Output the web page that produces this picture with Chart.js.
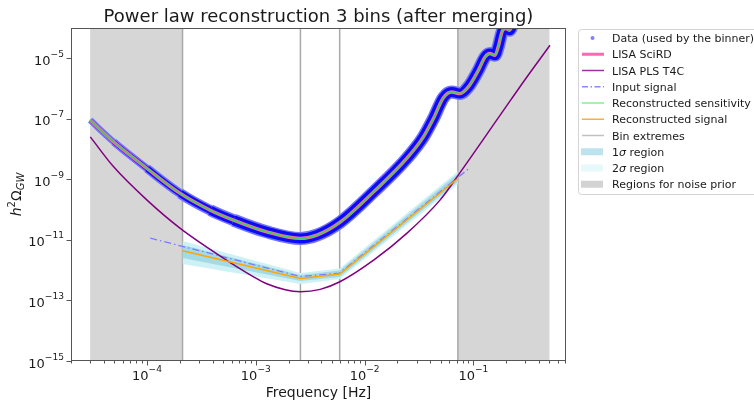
<!DOCTYPE html>
<html>
<head>
<meta charset="utf-8">
<script src="https://cdn.jsdelivr.net/npm/chart.js@4.4.1/dist/chart.umd.min.js"></script>
<style>
  html, body { margin: 0; padding: 0; background: #fff; }
  canvas { display: block; }
</style>
</head>
<body>
<canvas id="chart" width="754" height="401"></canvas>
<script>
const FONT = "'DejaVu Sans', sans-serif";
const TEXT = "#1a1a1a";

// axis limits and ticks
const xMin = 2.0e-5;
const xMax = 0.71;
const yMin = 1e-15;
const yMax = 1e-4;
const xMajorTicks = [1e-4, 1e-3, 1e-2, 1e-1];
const yTicks = [1e-15, 1e-13, 1e-11, 1e-9, 1e-7, 1e-5];

// LISA SciRD sensitivity (also the reconstructed sensitivity and the data cloud)
const sciFreq = [3.0e-5, 4.93e-5, 1.0e-4, 2.02e-4, 3.81e-4, 6.24e-4, 1.26e-3, 2.56e-3, 3.64e-3, 5.96e-3,
  1.21e-2, 2.44e-2, 3.47e-2, 4.29e-2, 5.30e-2, 6.32e-2, 7.54e-2, 8.98e-2, 0.111, 0.128,
  0.142, 0.158, 0.169, 0.186, 0.199, 0.214, 0.241];
const sciVal = [9.0e-8, 1.73e-8, 2.29e-9, 3.43e-10, 9.6e-11, 4.5e-11, 1.85e-11, 1.12e-11, 1.44e-11, 3.86e-11,
  3.86e-10, 4.9e-9, 2.53e-8, 1.02e-7, 4.97e-7, 7.7e-7, 6.8e-7, 1.13e-6, 4.0e-6, 1.1e-5,
  1.43e-5, 1.26e-5, 2.36e-5, 8.4e-5, 9.5e-5, 8.4e-5, 2.0e-4];

// LISA PLS T4C
const plsFreq = [3.01e-5, 4.93e-5, 1.0e-4, 2.02e-4, 4.71e-4, 9.53e-4, 1.26e-3, 1.83e-3, 2.56e-3, 3.91e-3,
  5.92e-3, 1.21e-2, 2.44e-2, 4.93e-2, 7.26e-2, 0.175, 0.308, 0.506];
const plsVal = [2.53e-8, 2.59e-9, 2.06e-10, 2.4e-11, 2.92e-12, 6.05e-13, 3.55e-13, 2.30e-13, 1.94e-13, 2.32e-13,
  4.14e-13, 2.15e-12, 1.64e-11, 2.06e-10, 1.38e-9, 1.27e-7, 2.32e-6, 2.69e-5];

// injected signal
const inputFreq = [1.07e-4, 2.57e-3, 5.9e-3, 9.3e-2];
const inputVal = [1.15e-11, 6.15e-13, 8.0e-13, 2.43e-9];

// reconstruction on the merged bins
const binEdges = [2.12e-4, 2.57e-3, 5.9e-3, 7.2e-2];
const recSignal = [4.37e-12, 5.36e-13, 7.43e-13, 1.07e-9];
const sigma1Low = [2.51e-12, 4.36e-13, 5.91e-13, 8.39e-10];
const sigma1High = [6.73e-12, 6.89e-13, 9.7e-13, 1.54e-9];
const sigma2Low = [1.59e-12, 3.47e-13, 5.08e-13, 6.95e-10];
const sigma2High = [9.12e-12, 8.01e-13, 1.13e-12, 1.87e-9];

const noiseRegions = [[3.0e-5, 2.12e-4], [7.2e-2, 0.5]];

const legendLabels = ["Data (used by the binner)", "LISA SciRD", "LISA PLS T4C", "Input signal",
  "Reconstructed sensitivity", "Reconstructed signal", "Bin extremes", "1σ region", "2σ region",
  "Regions for noise prior"];

const REGION_COLOR = "rgba(128,128,128,0.32)";
const BIN_COLOR = "#a9a9a9";

const legendHandles = [
  { type: "dot", color: "#8080ff" },
  { type: "line", color: "#ff69b4", width: 3 },
  { type: "line", color: "#993399", width: 1.5 },
  { type: "dash", color: "#8888ff", width: 1.5 },
  { type: "line", color: "#88ee88", width: 1.5 },
  { type: "line", color: "#ffad33", width: 1.5 },
  { type: "line", color: "#c0c0c0", width: 1.5 },
  { type: "patch", color: "#bde3ee" },
  { type: "patch", color: "#e6f9fb" },
  { type: "patch", color: "#d3d3d3" }
];

function pts(xs, ys) {
  return xs.map((x, i) => ({ x, y: ys[i] }));
}

// the scatter of the data cloud widens from the low-frequency end
function bandWidth(ctx) {
  const f = ctx.p0.parsed.x;
  const t = Math.min(1, Math.max(0, (Math.log10(f) + 4.52) / 1.3));
  return 3.5 + 6.5 * t;
}

const datasets = [
  { label: "halo", data: pts(sciFreq, sciVal), borderColor: "#7373ff", borderWidth: 12,
    borderJoinStyle: "round", cubicInterpolationMode: "monotone",
    segment: { borderWidth: c => bandWidth(c) + 3 }, order: 12 },
  { label: "Data (used by the binner)", data: pts(sciFreq, sciVal), borderColor: "#0b0bf5", borderWidth: 10,
    borderJoinStyle: "round", cubicInterpolationMode: "monotone",
    segment: { borderWidth: bandWidth }, order: 11 },
  { label: "LISA SciRD", data: pts(sciFreq, sciVal), borderColor: "#ff69b4", borderWidth: 3.4,
    cubicInterpolationMode: "monotone", order: 10 },
  { label: "2σ high", data: pts(binEdges, sigma2High), borderWidth: 0, borderColor: "rgba(0,0,0,0)",
    backgroundColor: "#cdf1f5", fill: "+1", order: 9 },
  { label: "2σ low", data: pts(binEdges, sigma2Low), borderWidth: 0, borderColor: "rgba(0,0,0,0)",
    fill: false, order: 9 },
  { label: "1σ high", data: pts(binEdges, sigma1High), borderWidth: 0, borderColor: "rgba(0,0,0,0)",
    backgroundColor: "#a3dae5", fill: "+1", order: 8 },
  { label: "1σ low", data: pts(binEdges, sigma1Low), borderWidth: 0, borderColor: "rgba(0,0,0,0)",
    fill: false, order: 8 },
  { label: "Input signal", data: pts(inputFreq, inputVal), borderColor: "#7b7bff", borderWidth: 1.3,
    borderDash: [7, 3, 1.5, 3], order: 7 },
  { label: "LISA PLS T4C", data: pts(plsFreq, plsVal), borderColor: "#800080", borderWidth: 1.5,
    cubicInterpolationMode: "monotone", order: 6 },
  { label: "Reconstructed sensitivity", data: pts(sciFreq, sciVal), borderColor: "#4fc94f", borderWidth: 1.7,
    cubicInterpolationMode: "monotone", order: 5 },
  { label: "Reconstructed signal", data: pts(binEdges, recSignal), borderColor: "#ffa500", borderWidth: 1.5,
    order: 4 }
];

function hline(ctx, x0, y0, x1, y1) {
  ctx.beginPath();
  ctx.moveTo(x0, y0);
  ctx.lineTo(x1, y1);
  ctx.stroke();
}

function drawPow(ctx, value, x, y, align) {
  const exp = Math.round(Math.log10(value));
  const base = "10";
  const sup = (exp < 0 ? "\u2212" : "") + Math.abs(exp);
  ctx.font = `13px ${FONT}`;
  const wb = ctx.measureText(base).width;
  ctx.font = `9.1px ${FONT}`;
  const ws = ctx.measureText(sup).width;
  const x0 = align === "center" ? x - (wb + ws) / 2 : x - (wb + ws);
  ctx.textAlign = "left";
  ctx.textBaseline = "alphabetic";
  ctx.font = `13px ${FONT}`;
  ctx.fillText(base, x0, y);
  ctx.font = `9.1px ${FONT}`;
  ctx.fillText(sup, x0 + wb, y - 8);
}

function drawPieces(ctx, pieces, x, y, align) {
  let total = 0;
  pieces.forEach(p => {
    ctx.font = p.font;
    p.w = ctx.measureText(p.text).width;
    total += p.w;
  });
  let cx = align === "center" ? x - total / 2 : x;
  ctx.textAlign = "left";
  ctx.textBaseline = "alphabetic";
  pieces.forEach(p => {
    ctx.font = p.font;
    ctx.fillText(p.text, cx, y + (p.dy || 0));
    cx += p.w;
  });
}

function legendPieces(label) {
  const parts = label.split("σ");
  const out = [];
  parts.forEach((part, i) => {
    if (i > 0) out.push({ text: "σ", font: `italic 11px ${FONT}` });
    if (part) out.push({ text: part, font: `11px ${FONT}` });
  });
  return out;
}

const decorPlugin = {
  id: "decor",
  beforeDatasetsDraw(chart) {
    const { ctx, chartArea: a, scales: { x } } = chart;
    ctx.save();
    ctx.beginPath();
    ctx.rect(a.left, a.top, a.right - a.left, a.bottom - a.top);
    ctx.clip();
    ctx.fillStyle = REGION_COLOR;
    noiseRegions.forEach(([f0, f1]) => {
      const p0 = x.getPixelForValue(f0);
      const p1 = x.getPixelForValue(f1);
      ctx.fillRect(p0, a.top, p1 - p0, a.bottom - a.top);
    });
    ctx.strokeStyle = BIN_COLOR;
    ctx.lineWidth = 1.5;
    binEdges.forEach(f => {
      const p = x.getPixelForValue(f);
      hline(ctx, p, a.top, p, a.bottom);
    });
    ctx.restore();
  },
  afterDraw(chart) {
    const { ctx, chartArea: a, scales: { x, y } } = chart;
    ctx.save();

    // frame
    ctx.strokeStyle = "#555";
    ctx.lineWidth = 1;
    ctx.strokeRect(Math.round(a.left) + 0.5, Math.round(a.top) + 0.5,
      Math.round(a.right - a.left) - 1, Math.round(a.bottom - a.top) - 1);

    // x ticks
    const bottom = Math.round(a.bottom);
    for (let e = -5; e <= 0; e++) {
      for (let m = 1; m <= 9; m++) {
        const v = m * Math.pow(10, e);
        if (v < xMin || v > xMax) continue;
        const px = Math.round(x.getPixelForValue(v)) + 0.5;
        hline(ctx, px, bottom, px, bottom + (m === 1 ? 4.5 : 2.5));
      }
    }
    // y ticks
    const left = Math.round(a.left);
    yTicks.forEach(v => {
      const py = Math.round(y.getPixelForValue(v)) + 0.5;
      hline(ctx, left - 4.5, py, left, py);
    });

    ctx.fillStyle = TEXT;
    xMajorTicks.forEach(v => drawPow(ctx, v, x.getPixelForValue(v), bottom + 19, "center"));
    yTicks.forEach(v => drawPow(ctx, v, left - 7, y.getPixelForValue(v) + 6.5, "right"));

    // title and axis labels
    ctx.textAlign = "center";
    ctx.textBaseline = "alphabetic";
    ctx.font = `18px ${FONT}`;
    ctx.fillText("Power law reconstruction 3 bins (after merging)", (a.left + a.right) / 2, 21.5);
    ctx.font = `14px ${FONT}`;
    ctx.fillText("Frequency [Hz]", (a.left + a.right) / 2, 396.5);

    ctx.save();
    ctx.translate(20.5, (a.top + a.bottom) / 2);
    ctx.rotate(-Math.PI / 2);
    drawPieces(ctx, [
      { text: "h", font: `italic 14px ${FONT}` },
      { text: "2", font: `10px ${FONT}`, dy: -6 },
      { text: "Ω", font: `14px ${FONT}` },
      { text: "GW", font: `italic 10px ${FONT}`, dy: 3 }
    ], 0, 0, "center");
    ctx.restore();

    // legend
    ctx.beginPath();
    ctx.roundRect(578.5, 29.5, 190, 165, 3);
    ctx.fillStyle = "rgba(255,255,255,0.85)";
    ctx.fill();
    ctx.strokeStyle = "#d4d4d4";
    ctx.lineWidth = 1;
    ctx.stroke();

    legendLabels.forEach((label, i) => {
      const cy = 38 + i * 16.25;
      const h = legendHandles[i];
      ctx.setLineDash([]);
      if (h.type === "dot") {
        ctx.fillStyle = h.color;
        ctx.beginPath();
        ctx.arc(592.5, cy, 2, 0, Math.PI * 2);
        ctx.fill();
      } else if (h.type === "patch") {
        ctx.fillStyle = h.color;
        ctx.fillRect(581, cy - 3.5, 22, 7);
      } else {
        ctx.strokeStyle = h.color;
        ctx.lineWidth = h.width;
        if (h.type === "dash") ctx.setLineDash([6, 2.5, 1.5, 2.5]);
        hline(ctx, 582, cy, 604, cy);
      }
      ctx.setLineDash([]);
      ctx.fillStyle = TEXT;
      drawPieces(ctx, legendPieces(label), 612, cy + 4, "left");
    });

    ctx.restore();
  }
};

new Chart(document.getElementById("chart"), {
  type: "line",
  data: { datasets },
  options: {
    responsive: false,
    animation: false,
    devicePixelRatio: 1,
    events: [],
    layout: { padding: { left: 0, right: 188, top: 28, bottom: 0 } },
    elements: {
      point: { radius: 0, hoverRadius: 0 },
      line: { tension: 0, fill: false }
    },
    plugins: {
      legend: { display: false },
      tooltip: { enabled: false },
      title: { display: false }
    },
    scales: {
      x: {
        type: "logarithmic",
        min: xMin,
        max: xMax,
        grid: { display: false },
        border: { display: false },
        ticks: { display: false },
        afterFit(s) { s.height = 40; }
      },
      y: {
        type: "logarithmic",
        min: yMin,
        max: yMax,
        grid: { display: false },
        border: { display: false },
        ticks: { display: false },
        afterFit(s) { s.width = 71; }
      }
    }
  },
  plugins: [decorPlugin]
});
</script>
</body>
</html>
